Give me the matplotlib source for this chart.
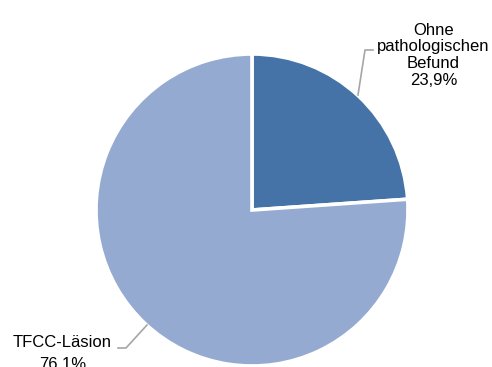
import matplotlib.pyplot as plt

plt.rcParams['font.family'] = ['Liberation Sans', 'DejaVu Sans']

names = ["Ohne\npathologischen\nBefund", "TFCC-Läsion"]
pct_labels = ["23,9%", "76.1%"]
shares = [23.9, 76.1]
colors = ["#4573A8", "#95AAD1"]

W, H = 492, 367
fig = plt.figure(figsize=(W / 100, H / 100), dpi=100)
ax = fig.add_axes([0, 0, 1, 1])

# pie in pixel coordinates (y measured from bottom)
cx, cy, r = 252, H - 210, 156
ax.pie(shares, colors=colors, startangle=90, counterclock=False,
       center=(cx, cy), radius=r, frame=True,
       wedgeprops=dict(edgecolor="white", linewidth=2.6))
ax.set_xlim(0, W)
ax.set_ylim(0, H)
ax.set_aspect("equal")
ax.axis("off")

# leader lines
line_color = "#A6A6A6"
ax.plot([358, 365, 373], [H - 95, H - 50, H - 50], color=line_color, lw=1.2)
ax.plot([147, 126, 118], [H - 325, H - 348, H - 348], color=line_color, lw=1.2)

fs = 12
# multi-line baseline anchors the last line
ax.text(433.5, H - 85, names[0] + "\n" + pct_labels[0], ha="center",
        va="baseline", fontsize=fs, linespacing=1.15, color="black")
ax.text(62.5, H - 347, names[1], ha="center", va="baseline", fontsize=fs,
        color="black")
ax.text(62.5, H - 369, pct_labels[1], ha="center", va="baseline",
        fontsize=fs, color="black")

fig.savefig("out.png", dpi=100)
